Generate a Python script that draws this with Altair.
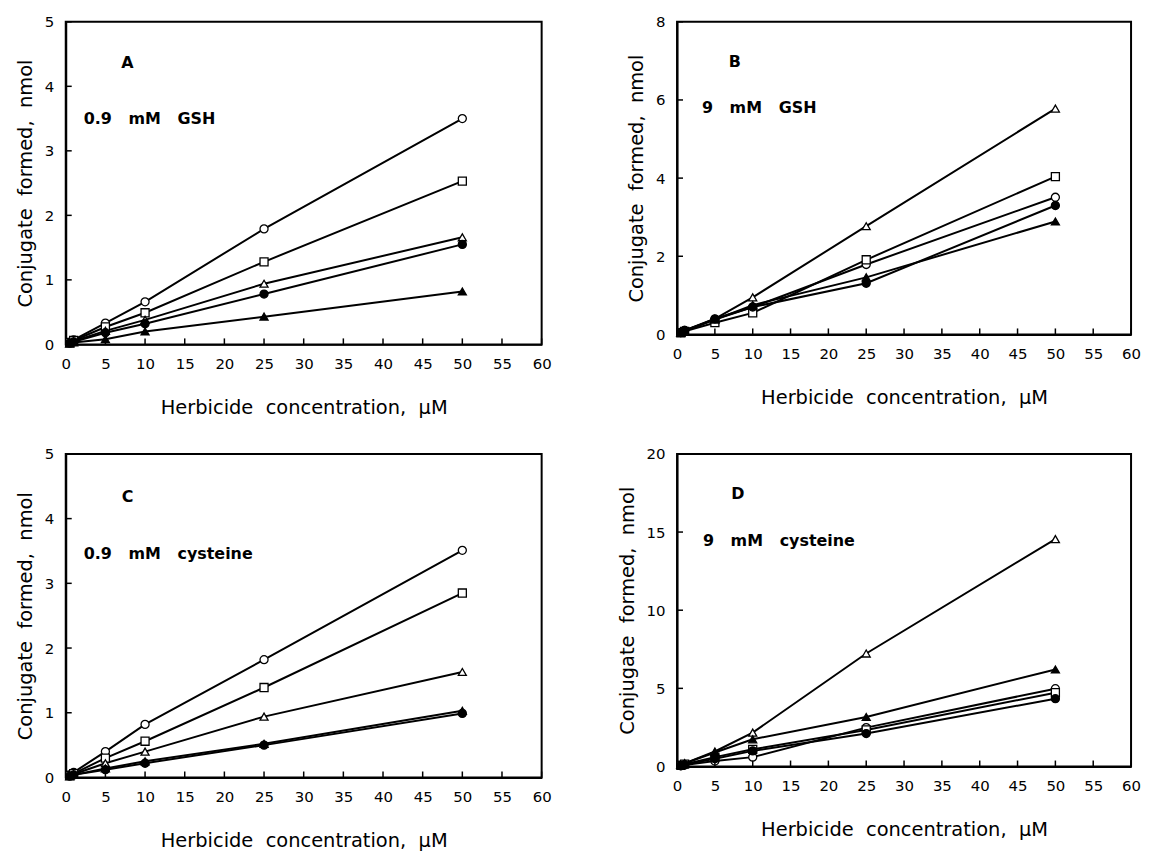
import altair as alt
import pandas as pd

# ---------------- data ----------------
conc = [0.5, 1, 5, 10, 25, 50]
series_names = ["open circle", "open square", "open triangle", "filled circle", "filled triangle"]
series_shapes = ["circle", "square", "triangle-up", "circle", "triangle-up"]
series_fills = ["white", "white", "white", "black", "black"]

# Panel A: 0.9 mM GSH
a_open_circle = [0.03, 0.07, 0.33, 0.66, 1.79, 3.50]
a_open_square = [0.03, 0.06, 0.27, 0.49, 1.28, 2.53]
a_open_triangle = [0.02, 0.05, 0.21, 0.38, 0.94, 1.66]
a_filled_circle = [0.02, 0.04, 0.18, 0.32, 0.78, 1.55]
a_filled_triangle = [0.01, 0.03, 0.08, 0.20, 0.43, 0.82]

# Panel B: 9 mM GSH
b_open_circle = [0.05, 0.10, 0.38, 0.70, 1.79, 3.51]
b_open_square = [0.04, 0.08, 0.30, 0.55, 1.91, 4.04]
b_open_triangle = [0.04, 0.08, 0.40, 0.95, 2.77, 5.78]
b_filled_circle = [0.05, 0.10, 0.40, 0.70, 1.31, 3.30]
b_filled_triangle = [0.05, 0.10, 0.38, 0.75, 1.46, 2.89]

# Panel C: 0.9 mM cysteine
c_open_circle = [0.04, 0.08, 0.40, 0.82, 1.82, 3.51]
c_open_square = [0.03, 0.06, 0.30, 0.56, 1.39, 2.85]
c_open_triangle = [0.02, 0.05, 0.22, 0.40, 0.94, 1.63]
c_filled_circle = [0.02, 0.04, 0.12, 0.22, 0.50, 0.99]
c_filled_triangle = [0.02, 0.04, 0.14, 0.25, 0.52, 1.03]

# Panel D: 9 mM cysteine
d_open_circle = [0.05, 0.10, 0.35, 0.60, 2.49, 4.98]
d_open_square = [0.08, 0.15, 0.60, 1.10, 2.34, 4.72]
d_open_triangle = [0.10, 0.20, 0.96, 2.17, 7.23, 14.55]
d_filled_circle = [0.06, 0.12, 0.50, 1.00, 2.11, 4.34]
d_filled_triangle = [0.10, 0.20, 0.90, 1.74, 3.17, 6.21]

x_ticks = [0, 5, 10, 15, 20, 25, 30, 35, 40, 45, 50, 55, 60]
a_y_ticks = [0, 1, 2, 3, 4, 5]
b_y_ticks = [0, 2, 4, 6, 8]
c_y_ticks = [0, 1, 2, 3, 4, 5]
d_y_ticks = [0, 5, 10, 15, 20]

panel_letters = ["A", "B", "C", "D"]
panel_conditions = [
    "0.9\u00a0\u00a0\u00a0mM\u00a0\u00a0\u00a0GSH",
    "9\u00a0\u00a0\u00a0mM\u00a0\u00a0\u00a0GSH",
    "0.9\u00a0\u00a0\u00a0mM\u00a0\u00a0\u00a0cysteine",
    "9\u00a0\u00a0\u00a0mM\u00a0\u00a0\u00a0cysteine",
]
x_title = "Herbicide\u00a0\u00a0concentration,\u00a0\u00a0\u00b5M"
y_title = "Conjugate\u00a0\u00a0formed,\u00a0\u00a0nmol"

# ---------------- styling ----------------
FONT = "DejaVu Sans"
TICK_LEN = 6


def make_axis(values, title, title_padding):
    return alt.Axis(
        values=values, title=title, ticks=False, grid=False,
        labelPadding=12, titlePadding=title_padding,
        labelFont=FONT, labelFontSize=15, labelColor="black",
        titleFont=FONT, titleFontSize=19.5, titleFontWeight="normal", titleColor="black",
        domainColor="black", domainWidth=2, labelFlush=False, labelOverlap=False,
    )


def panel(series_values, ymax, yticks, width, height, letter, cond, letter_pos, cond_pos):
    rows = []
    for name, vals in zip(series_names, series_values):
        for xv, yv in zip(conc, vals):
            rows.append({"conc": xv, "value": yv, "series": name})
    df = pd.DataFrame(rows)

    xs = alt.Scale(domain=[0, 60], nice=False)
    ys = alt.Scale(domain=[0, ymax], nice=False)
    x_axis = make_axis(x_ticks, x_title, 27)
    y_axis = make_axis(yticks, y_title, 9)

    x_enc = alt.X("conc:Q", scale=xs, axis=x_axis)
    y_enc = alt.Y("value:Q", scale=ys, axis=y_axis)

    base = alt.Chart(df)
    lines = base.mark_line(color="black", strokeWidth=2).encode(
        x=x_enc, y=y_enc, detail="series:N"
    )
    points = base.mark_point(filled=True, stroke="black", strokeWidth=1.3,
                             size=65, opacity=1).encode(
        x=x_enc, y=y_enc,
        shape=alt.Shape("series:N", scale=alt.Scale(domain=series_names, range=series_shapes), legend=None),
        fill=alt.Fill("series:N", scale=alt.Scale(domain=series_names, range=series_fills), legend=None),
    )
    xt = alt.Chart(pd.DataFrame({"t": x_ticks})).mark_rule(color="black", strokeWidth=1.5).encode(
        x=alt.X("t:Q", scale=xs, axis=x_axis),
        y=alt.value(height), y2=alt.value(height - TICK_LEN),
    )
    yt = alt.Chart(pd.DataFrame({"t": yticks})).mark_rule(color="black", strokeWidth=1.5).encode(
        y=alt.Y("t:Q", scale=ys, axis=y_axis),
        x=alt.value(0), x2=alt.value(TICK_LEN),
    )
    letter_txt = alt.Chart(pd.DataFrame({"label": [letter]})).mark_text(
        font=FONT, fontSize=16, fontWeight="bold", align="center", baseline="middle", color="black"
    ).encode(x=alt.value(letter_pos[0]), y=alt.value(letter_pos[1]), text="label:N")
    cond_txt = alt.Chart(pd.DataFrame({"label": [cond]})).mark_text(
        font=FONT, fontSize=16, fontWeight="bold", align="left", baseline="middle", color="black"
    ).encode(x=alt.value(cond_pos[0]), y=alt.value(cond_pos[1]), text="label:N")

    return alt.layer(lines, points, xt, yt, letter_txt, cond_txt).properties(width=width, height=height)


pA = panel([a_open_circle, a_open_square, a_open_triangle, a_filled_circle, a_filled_triangle],
           5, a_y_ticks, 478, 324, panel_letters[0], panel_conditions[0], (62, 41), (18, 98))
pB = panel([b_open_circle, b_open_square, b_open_triangle, b_filled_circle, b_filled_triangle],
           8, b_y_ticks, 456, 314, panel_letters[1], panel_conditions[1], (58, 40), (25, 87))
pC = panel([c_open_circle, c_open_square, c_open_triangle, c_filled_circle, c_filled_triangle],
           5, c_y_ticks, 478, 325, panel_letters[2], panel_conditions[2], (62, 43), (18, 101))
pD = panel([d_open_circle, d_open_square, d_open_triangle, d_filled_circle, d_filled_triangle],
           20, d_y_ticks, 456, 314, panel_letters[3], panel_conditions[3], (61, 40), (26, 88))

chart = alt.concat(
    pA, pB, pC, pD, columns=2,
    spacing={"row": 110, "column": 136},
    bounds="flush", align="each",
).properties(
    padding={"left": 6, "top": 4, "right": 0, "bottom": 0},
    background="white",
).configure_view(stroke="black", strokeWidth=2)

chart.save("out.html", embed_options={"renderer": "svg", "actions": False})
